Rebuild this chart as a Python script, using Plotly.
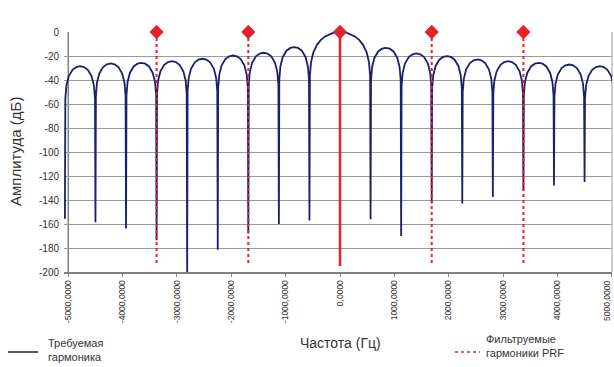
import plotly.graph_objects as go

# ---- data ----
# frequencies of the spectrum nulls (Hz) and their depths (dB)
null_freq = [-5062.5, -4500, -3937.5, -3375, -2812.5, -2250, -1687.5, -1125, -562.5,
             562.5, 1125, 1687.5, 2250, 2812.5, 3375, 3937.5, 4500, 5062.5]
null_depth = [-155.6, -158.5, -163.8, -173.6, -205.0, -181.4, -168.0, -160.0, -157.0,
              -156.0, -170.0, -143.0, -143.0, -137.5, -132.0, -128.0, -125.0, -125.0]
# peak level of each lobe between consecutive nulls (main lobe = 0 dB)
lobe_peak = [-28.5, -26.2, -25.7, -24.3, -22.3, -19.6, -17.3, -12.6, 0.0,
             -13.2, -17.9, -20.1, -22.9, -24.3, -25.7, -27.1, -28.5]
# shape of a side lobe: offset from its left null (Hz) and level below its peak (dB)
side_offset = [8, 28, 70, 140, 211, 281, 352, 422, 492, 534, 554]
side_drop = [-27.0, -16.1, -8.4, -3.0, -0.7, 0.0, -0.7, -3.0, -8.4, -16.1, -27.0]
# main lobe points (Hz, dB)
main_freq = [-554, -534, -492, -422, -352, -281, -211, -140, -70, 0,
             70, 140, 211, 281, 352, 422, 492, 534, 554]
main_amp = [-36.3, -25.5, -17.1, -10.5, -6.6, -3.9, -2.1, -0.9, -0.2, 0.0,
            -0.2, -0.9, -2.1, -3.9, -6.6, -10.5, -17.1, -25.5, -36.3]

# required harmonic and filtered PRF harmonics
req_freq = [0]
req_bottom = [-195]
prf_freq = [-3375, -1687.5, 1687.5, 3375]
prf_bottom = [-194, -194, -193, -194]
marker_freq = [-3375, -1687.5, 0, 1687.5, 3375]
marker_level = [0, 0, 0, 0, 0]

y_ticks = [0, -20, -40, -60, -80, -100, -120, -140, -160, -180, -200]
y_ticktext = ["0", "-20", "-40", "-60", "-80", "-100", "-120", "-140", "-160", "-180", "-200"]
x_ticks = [-5000, -4000, -3000, -2000, -1000, 0, 1000, 2000, 3000, 4000, 5000]
x_ticktext = ["-5000,0000", "-4000,0000", "-3000,0000", "-2000,0000", "-1000,0000", "0,0000",
              "1000,0000", "2000,0000", "3000,0000", "4000,0000", "5000,0000"]

# ---- build the spectrum table ----
curve_f, curve_a = [], []
for i in range(len(null_freq) - 1):
    curve_f.append(null_freq[i]); curve_a.append(null_depth[i])
    if i == 8:
        curve_f.extend(main_freq); curve_a.extend(main_amp)
    else:
        for off, d in zip(side_offset, side_drop):
            curve_f.append(null_freq[i] + off); curve_a.append(lobe_peak[i] + d)
curve_f.append(null_freq[-1]); curve_a.append(null_depth[-1])

RED = "#e2232b"
NAVY = "#1c1f6b"
FONT = "Liberation Sans, Arial, sans-serif"

# the last tick label sits at the page edge: draw it as an annotation nudged inside
axis_ticktext = x_ticktext[:-1] + [""]

fig = go.Figure()
fig.add_trace(go.Scatter(x=curve_f, y=curve_a, mode="lines",
                         line=dict(color=NAVY, width=1.8), showlegend=False))

px, py = [], []
for f, b in zip(prf_freq, prf_bottom):
    px += [f, f, None]; py += [0, b, None]
fig.add_trace(go.Scatter(x=px, y=py, mode="lines",
                         line=dict(color=RED, width=2, dash="dot"), showlegend=False))
rx, ry = [], []
for f, b in zip(req_freq, req_bottom):
    rx += [f, f, None]; ry += [0, b, None]
fig.add_trace(go.Scatter(x=rx, y=ry, mode="lines",
                         line=dict(color=RED, width=2.5), showlegend=False))
fig.add_trace(go.Scatter(x=marker_freq, y=marker_level, mode="markers",
                         marker=dict(symbol="diamond", size=11, color=RED),
                         cliponaxis=False, showlegend=False))

fig.update_layout(
    width=614, height=367,
    margin=dict(l=64, r=2, t=32, b=95, autoexpand=False),
    paper_bgcolor="white", plot_bgcolor="white",
    font=dict(family=FONT, color="#333333"),
    xaxis=dict(range=[-5079, 5005], tickvals=x_ticks, ticktext=axis_ticktext,
               tickangle=-90, tickfont=dict(size=8.5, color="#333333"),
               ticklabeloverflow="allow", automargin=False,
               showgrid=False, zeroline=False, showline=True, linecolor="#808080",
               linewidth=1.5, ticks="outside", ticklen=3, tickcolor="#808080"),
    yaxis=dict(range=[-200, 0], tickvals=y_ticks, ticktext=y_ticktext,
               tickfont=dict(size=10, color="#333333"), automargin=False,
               showgrid=True, gridcolor="#9a9a9a", gridwidth=1, zeroline=False,
               showline=False, ticks="", ticklabelstandoff=4),
    shapes=[
        dict(type="line", xref="x", yref="y", x0=-5000, x1=-5000, y0=-200, y1=0,
             line=dict(color="#808080", width=1.5), layer="below"),
        dict(type="line", xref="paper", yref="y", x0=1, x1=1, y0=-200, y1=0,
             line=dict(color="#9a9a9a", width=1), layer="below"),
        # legend samples
        dict(type="line", xref="paper", yref="paper", x0=(8 - 64) / 548, x1=(38 - 64) / 548,
             y0=(272 - 352) / 240, y1=(272 - 352) / 240, line=dict(color="#222222", width=1.5)),
        dict(type="line", xref="paper", yref="paper", x0=(455 - 64) / 548, x1=(480 - 64) / 548,
             y0=(272 - 352) / 240, y1=(272 - 352) / 240, line=dict(color=RED, width=1.5, dash="dot")),
    ],
    annotations=[
        dict(text=x_ticktext[-1], textangle=-90, xref="paper", yref="paper",
             x=(607 - 64) / 548, y=(272 - 280) / 240, showarrow=False,
             font=dict(size=8.5, color="#333333"), xanchor="center", yanchor="top",
             borderpad=0),
        dict(text="Амплитуда (дБ)", textangle=-90, xref="paper", yref="paper",
             x=(15 - 64) / 548, y=(272 - 152) / 240, showarrow=False,
             font=dict(size=15, color="#333333"), xanchor="center", yanchor="middle"),
        dict(text="Частота (Гц)", xref="paper", yref="paper",
             x=(340 - 64) / 548, y=(272 - 343) / 240, showarrow=False,
             font=dict(size=14, color="#333333"), xanchor="center", yanchor="middle"),
        dict(text="Требуемая<br>гармоника", xref="paper", yref="paper", align="left",
             x=(46 - 64) / 548, y=(272 - 350) / 240, showarrow=False,
             font=dict(size=11, color="#333333"), xanchor="left", yanchor="middle"),
        dict(text="Фильтруемые<br>гармоники PRF", xref="paper", yref="paper", align="left",
             x=(484 - 64) / 548, y=(272 - 346) / 240, showarrow=False,
             font=dict(size=11, color="#333333"), xanchor="left", yanchor="middle"),
    ],
)

fig.write_html("out.html")
